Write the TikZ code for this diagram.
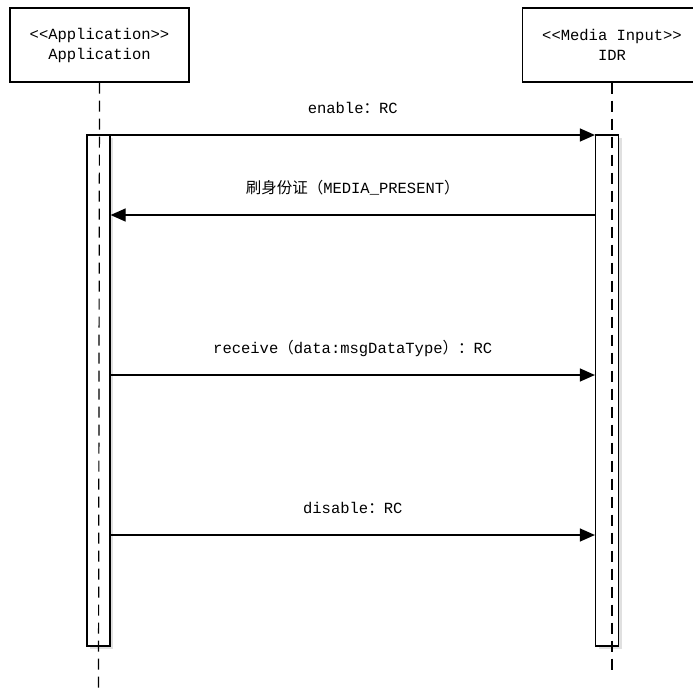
\documentclass[tikz,border=0pt]{standalone}
\usepackage{fontspec}
\setmainfont{Liberation Mono}[Ligatures=TeXOff]
\newfontfamily\cjk{Noto Sans CJK SC}
\usetikzlibrary{arrows.meta}
\tikzstyle{lifebox}=[draw, line width=1.2pt, minimum width=179pt, minimum height=74pt, inner sep=0pt, align=center, font=\fontsize{15.5}{20}\selectfont]
\tikzstyle{actbar}=[draw, fill=white, line width=1.2pt, minimum width=23pt, minimum height=511pt, inner sep=0pt]
\tikzstyle{barshadow}=[fill=black!12, minimum width=23pt, minimum height=511pt, inner sep=0pt]
\tikzstyle{lifeline}=[line width=1.2pt, dash pattern=on 11pt off 7pt]
\tikzstyle{msg}=[line width=1.2pt, -{Triangle[length=15pt,width=13pt]}]
\tikzstyle{msglabel}=[font=\fontsize{15.5}{20}\selectfont, inner sep=0pt]
\newcommand{\zh}[1]{{\cjk #1}}

\begin{document}
\begin{tikzpicture}[x=1pt, y=-1pt]
\useasboundingbox (0,0) rectangle (693,688);
% lifeline heads
\node[lifebox] (app) at (99.5,45) {<<Application>>\\Application};
\node[lifebox] (idr) at (612,45) {<<Media Input>>\\IDR};
% activation bars
\node[barshadow] at (101.5,393.5) {};
\node[barshadow] at (610,393.5) {};
\node[actbar] (appbar) at (98.5,390.5) {};
\node[actbar] (idrbar) at (607,390.5) {};
% lifelines
\coordinate (append) at (98.5,688);
\coordinate (idrend) at (612,670);
\draw[lifeline] (app.south) -- (append);
\draw[lifeline] (idr.south -| idrend) -- (idrend);
% messages
\coordinate (m1) at (0,135);
\coordinate (m2) at (0,215);
\coordinate (m3) at (0,375);
\coordinate (m4) at (0,535);
\draw[msg] (appbar.east |- m1) -- node[msglabel, yshift=27pt] (l1) {enable\zh{：}RC} (idrbar.west |- m1);
\draw[msg] (idrbar.west |- m2) -- node[msglabel, yshift=27pt] (l2) {\zh{刷身份证（}MEDIA\_PRESENT\zh{）}} (appbar.east |- m2);
\draw[msg] (appbar.east |- m3) -- node[msglabel, yshift=27pt] (l3) {receive\zh{（}data:msgDataType\zh{）：}RC} (idrbar.west |- m3);
\draw[msg] (appbar.east |- m4) -- node[msglabel, yshift=27pt] (l4) {disable\zh{：}RC} (idrbar.west |- m4);
\end{tikzpicture}
\end{document}
